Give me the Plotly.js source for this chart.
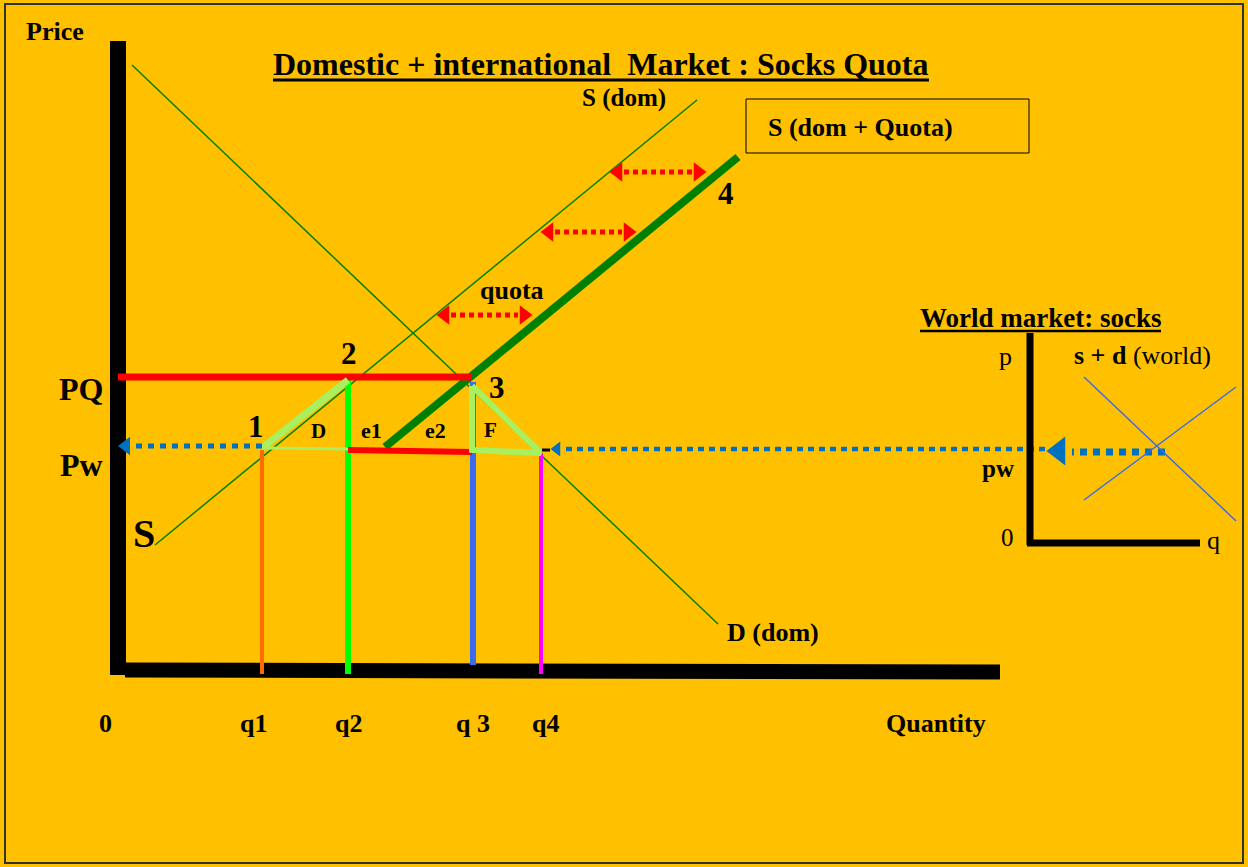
<!DOCTYPE html>
<html>
<head>
<meta charset="utf-8">
<script src="https://cdn.plot.ly/plotly-3.0.1.min.js"></script>
<style>
html,body{margin:0;padding:0;background:#FFC000;}
#chart{width:1248px;height:867px;}
</style>
</head>
<body>
<div id="chart"></div>
<script>
// ---- Diagram data (schematic coordinates: x = quantity position, y = price position, top = 0) ----
const priceAxisX = [118, 118];          const priceAxisY = [41, 675];
const qtyAxisX = [125, 1000];           const qtyAxisY = [670, 672];
const supplyDomX = [155, 697];          const supplyDomY = [545, 100];
const demandDomX = [132, 718];          const demandDomY = [65, 624];
const supplyQuotaX = [385, 738];        const supplyQuotaY = [447, 157];
const pqLineX = [118, 472];             const pqLineY = [377, 377];
const gapLineX = [348, 472];            const gapLineY = [450, 452];
const triDHypX = [262, 348];            const triDHypY = [448, 380];
const triDBaseX = [262, 348];           const triDBaseY = [448, 449];
const triFX = [472, 472, 541, 472];     const triFY = [386, 450, 453, 386];
const qLineX = [262, 348, 473, 541];
const qLineTop = [450, 380, 382, 453];
const qLineBottom = [674, 674, 665, 674];
const qLineColors = ['#FF6A00', '#00FF00', '#3A6CF0', '#FF00FF'];
const qLineWidths = [4, 6, 6, 4];
const qLabels = ['0', 'q1', 'q2', 'q 3', 'q4', 'Quantity'];
const qLabelX = [105, 253, 348, 473, 545, 936];
// quota arrows: left tip, right tip, level
const quotaArrowLeft = [437, 541, 610];
const quotaArrowRight = [532, 636, 706];
const quotaArrowY = [315, 232, 172];
// world price arrows
const pwArrowLeftTail = 262, pwArrowLeftTip = 118, pwArrowLeftY = 446;
const pwArrowMidTail = 1045, pwArrowMidTip = 550, pwArrowMidY = 449;
const pwArrowWorldTail = 1165, pwArrowWorldTip = 1046, pwArrowWorldY = 452;
// world market panel
const worldPAxisX = [1030, 1030];       const worldPAxisY = [333, 545];
const worldQAxisX = [1027, 1200];       const worldQAxisY = [543, 543];
const worldDemandX = [1084, 1236];      const worldDemandY = [377, 521];
const worldSupplyX = [1084, 1236];      const worldSupplyY = [500, 387];

const FONT = 'Liberation Serif, Times New Roman, serif';
const traces = [];
function seg(x, y, color, width, dash) {
  traces.push({x: x, y: y, mode: 'lines', type: 'scatter', hoverinfo: 'skip',
    line: {color: color, width: width, dash: dash || 'solid'}});
}
function head(x, y, sym, color, size) {
  traces.push({x: [x], y: [y], mode: 'markers', type: 'scatter', hoverinfo: 'skip',
    marker: {symbol: sym, color: color, size: size, line: {width: 0}}});
}

// domestic market axes
seg(priceAxisX, priceAxisY, '#000', 16);
seg(qtyAxisX, qtyAxisY, '#000', 15);
// curves
seg(supplyDomX, supplyDomY, '#008000', 1.5);
seg(demandDomX, demandDomY, '#008000', 1.5);
seg(supplyQuotaX, supplyQuotaY, '#008000', 8);
// vertical quantity lines
for (let i = 0; i < qLineX.length; i++) {
  seg([qLineX[i], qLineX[i]], [qLineTop[i], qLineBottom[i]], qLineColors[i], qLineWidths[i]);
}
// red price lines
seg(pqLineX, pqLineY, '#FF0000', 7);
seg(gapLineX, gapLineY, '#FF0000', 6);
// deadweight triangles
seg(triDBaseX, triDBaseY, '#A8F060', 3);
seg(triDHypX, triDHypY, '#A8F060', 7);
seg(triFX, triFY, '#A8F060', 6);
// quota arrows
for (let i = 0; i < quotaArrowY.length; i++) {
  seg([quotaArrowLeft[i] + 14, quotaArrowRight[i] - 14], [quotaArrowY[i], quotaArrowY[i]], '#FF0000', 5, '5px,4px');
  head(quotaArrowLeft[i] + 8, quotaArrowY[i], 'triangle-left', '#FF0000', 17);
  head(quotaArrowRight[i] - 8, quotaArrowY[i], 'triangle-right', '#FF0000', 17);
}
// world price arrows
seg([pwArrowLeftTail, pwArrowLeftTip + 16], [pwArrowLeftY, pwArrowLeftY], '#0070C0', 5, '6px,6px');
head(pwArrowLeftTip + 8, pwArrowLeftY, 'triangle-left', '#0070C0', 16);
seg([pwArrowMidTail, pwArrowMidTip + 12], [pwArrowMidY, pwArrowMidY], '#0070C0', 4.5, '6px,5px');
head(pwArrowMidTip + 7, pwArrowMidY, 'triangle-left', '#0070C0', 13);
seg([pwArrowWorldTail, pwArrowWorldTip + 26], [pwArrowWorldY, pwArrowWorldY], '#0070C0', 7, '7px,6px');
head(pwArrowWorldTip + 13, pwArrowWorldY - 1, 'triangle-left', '#0070C0', 25);
// small black tick at q4
seg([542, 550], [450, 450], '#000', 3);
// world market panel
seg(worldPAxisX, worldPAxisY, '#000', 7);
seg(worldQAxisX, worldQAxisY, '#000', 7);
seg(worldDemandX, worldDemandY, '#3A6CF0', 1.5);
seg(worldSupplyX, worldSupplyY, '#3A6CF0', 1.5);

function txt(x, y, text, size, bold, anchor) {
  return {x: x, y: y, xref: 'x', yref: 'y', text: bold ? '<b>' + text + '</b>' : text,
    showarrow: false, xanchor: anchor || 'center', yanchor: 'middle',
    font: {family: FONT, size: size, color: '#000'}};
}
const annotations = [
  txt(55, 31, 'Price', 26, true),
  txt(601, 64, 'Domestic + international  Market : Socks Quota', 32, true),
  txt(624, 98, 'S (dom)', 25, true),
  txt(860, 127, 'S (dom + Quota)', 26, true),
  txt(726, 193, '4', 31, true),
  txt(512, 290, 'quota', 26, true),
  txt(349, 353, '2', 31, true),
  txt(497, 387, '3', 31, true),
  txt(256, 426, '1', 31, true),
  txt(318, 431, 'D', 21, true),
  txt(371, 430, 'e1', 22, true),
  txt(435, 430, 'e2', 22, true),
  txt(490, 430, 'F', 21, true),
  txt(81, 389, 'PQ', 32, true),
  txt(81, 465, 'Pw', 32, true),
  txt(144, 533, 'S', 40, true),
  txt(773, 632, 'D (dom)', 26, true),
  txt(1040, 318, 'World market: socks', 27, true),
  txt(1005, 356, 'p', 26, false),
  txt(1142, 355, '<b>s + d</b> (world)', 26, false),
  txt(998, 468, 'pw', 25, true),
  txt(1007, 537, '0', 25, false),
  txt(1213, 540, 'q', 26, false)
];
for (let i = 0; i < qLabels.length; i++) annotations.push(txt(qLabelX[i], 723, qLabels[i], 26, true));

// decorations: frame, label box, underlines
const frameX = [5, 1243], frameY = [4, 863];
const boxX = [746, 1029], boxY = [99, 153];
const titleUnderlineX = [273, 929], titleUnderlineY = 80;
const worldUnderlineX = [920, 1161], worldUnderlineY = 331;
const shapes = [
  {type: 'rect', xref: 'x', yref: 'y', x0: frameX[0], x1: frameX[1], y0: frameY[0], y1: frameY[1], line: {color: '#333', width: 2}},
  {type: 'rect', xref: 'x', yref: 'y', x0: boxX[0], x1: boxX[1], y0: boxY[0], y1: boxY[1], line: {color: '#000', width: 1}},
  {type: 'line', xref: 'x', yref: 'y', x0: titleUnderlineX[0], x1: titleUnderlineX[1], y0: titleUnderlineY, y1: titleUnderlineY, line: {color: '#000', width: 3}},
  {type: 'line', xref: 'x', yref: 'y', x0: worldUnderlineX[0], x1: worldUnderlineX[1], y0: worldUnderlineY, y1: worldUnderlineY, line: {color: '#000', width: 2.5}}
];

const layout = {
  width: 1248, height: 867,
  margin: {l: 0, r: 0, t: 0, b: 0},
  paper_bgcolor: '#FFC000', plot_bgcolor: '#FFC000',
  showlegend: false,
  xaxis: {range: [0, 1248], visible: false, fixedrange: true},
  yaxis: {range: [867, 0], visible: false, fixedrange: true},
  annotations: annotations,
  shapes: shapes
};
Plotly.newPlot('chart', traces, layout, {displayModeBar: false, staticPlot: true});
</script>
</body>
</html>
